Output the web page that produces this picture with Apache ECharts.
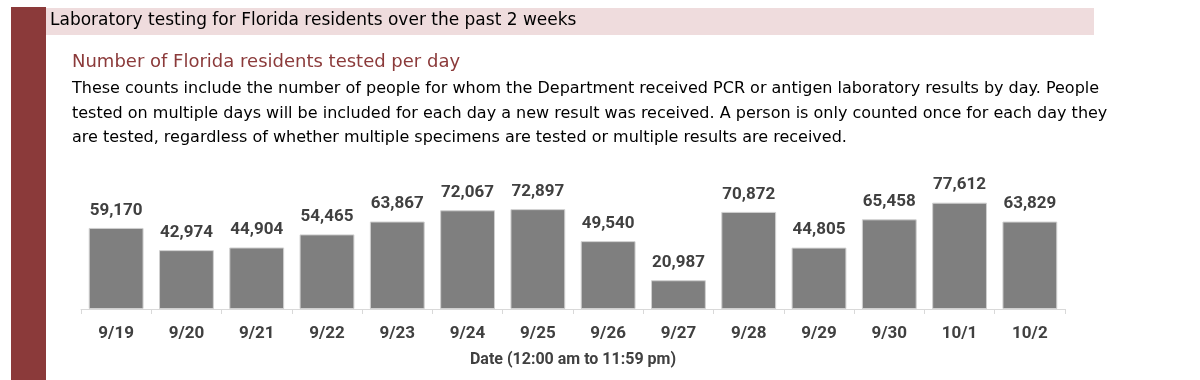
<!DOCTYPE html>
<html>
<head>
<meta charset="utf-8">
<script src="https://cdn.jsdelivr.net/npm/echarts@6/dist/echarts.min.js"></script>
<style>
html,body{margin:0;padding:0;background:#fff;}
#chart{width:1200px;height:380px;}
</style>
</head>
<body>
<div id="chart"></div>
<script>
var categories = ['9/19','9/20','9/21','9/22','9/23','9/24','9/25','9/26','9/27','9/28','9/29','9/30','10/1','10/2'];
var testedValues = [59170,42974,44904,54465,63867,72067,72897,49540,20987,70872,44805,65458,77612,63829];
var headerText = 'Laboratory testing for Florida residents over the past 2 weeks';
var subtitleText = 'Number of Florida residents tested per day';
var bodyLines = [
  'These counts include the number of people for whom the Department received PCR or antigen laboratory results by day. People',
  'tested on multiple days will be included for each day a new result was received. A person is only counted once for each day they',
  'are tested, regardless of whether multiple specimens are tested or multiple results are received.'
];
var xAxisName = 'Date (12:00 am to 11:59 pm)';

var chart = echarts.init(document.getElementById('chart'), null, {renderer:'canvas'});
var FONT = '"DejaVu Sans", sans-serif';
var LABELFONT = 'Roboto, "Liberation Sans", sans-serif';

var graphics = [
  {type:'rect', left:11, top:7, shape:{width:35, height:373}, style:{fill:'#8b3a3a'}, z:0},
  {type:'rect', left:46, top:8, shape:{width:1048, height:27}, style:{fill:'#efdcdd'}, z:0},
  {type:'text', x:50, y:21, style:{text:headerText, fill:'#000', font:'17px ' + FONT, verticalAlign:'middle'}, z:1},
  {type:'text', x:72, y:62, style:{text:subtitleText, fill:'#8b3a3a', font:'18px ' + FONT, verticalAlign:'middle'}, z:1}
];
var lineYs = [89, 114, 138];
bodyLines.forEach(function(t, i){
  graphics.push({type:'text', x:72, y:lineYs[i], style:{text:t, fill:'#000', font:'16px ' + FONT, verticalAlign:'middle'}, z:1});
});

chart.setOption({
  animation:false,
  graphic: graphics,
  grid:{left:81, right:135, top:172, bottom:71, containLabel:false},
  xAxis:{
    type:'category',
    data:categories,
    boundaryGap:true,
    axisLine:{show:true, lineStyle:{color:'#d9d9d9', width:1}},
    axisTick:{show:true, alignWithLabel:false, length:5, lineStyle:{color:'#d9d9d9'}},
    axisLabel:{color:'#404040', fontFamily:LABELFONT, fontWeight:'bold', fontSize:17, margin:16},
    name:xAxisName,
    nameLocation:'middle',
    nameGap:43,
    nameTextStyle:{color:'#404040', fontFamily:LABELFONT, fontWeight:'bold', fontSize:16}
  },
  yAxis:{type:'value', min:0, max:100000, show:false, splitLine:{show:false}},
  series:[{
    type:'bar',
    data:testedValues,
    barCategoryGap:'22%',
    itemStyle:{color:'#7f7f7f', borderColor:'#d0d0d0', borderWidth:1},
    label:{
      show:true, position:'top', distance:9,
      color:'#404040', fontFamily:LABELFONT, fontWeight:'bold', fontSize:17,
      formatter:function(p){ return p.value.toLocaleString('en-US'); }
    }
  }]
});
</script>
</body>
</html>
